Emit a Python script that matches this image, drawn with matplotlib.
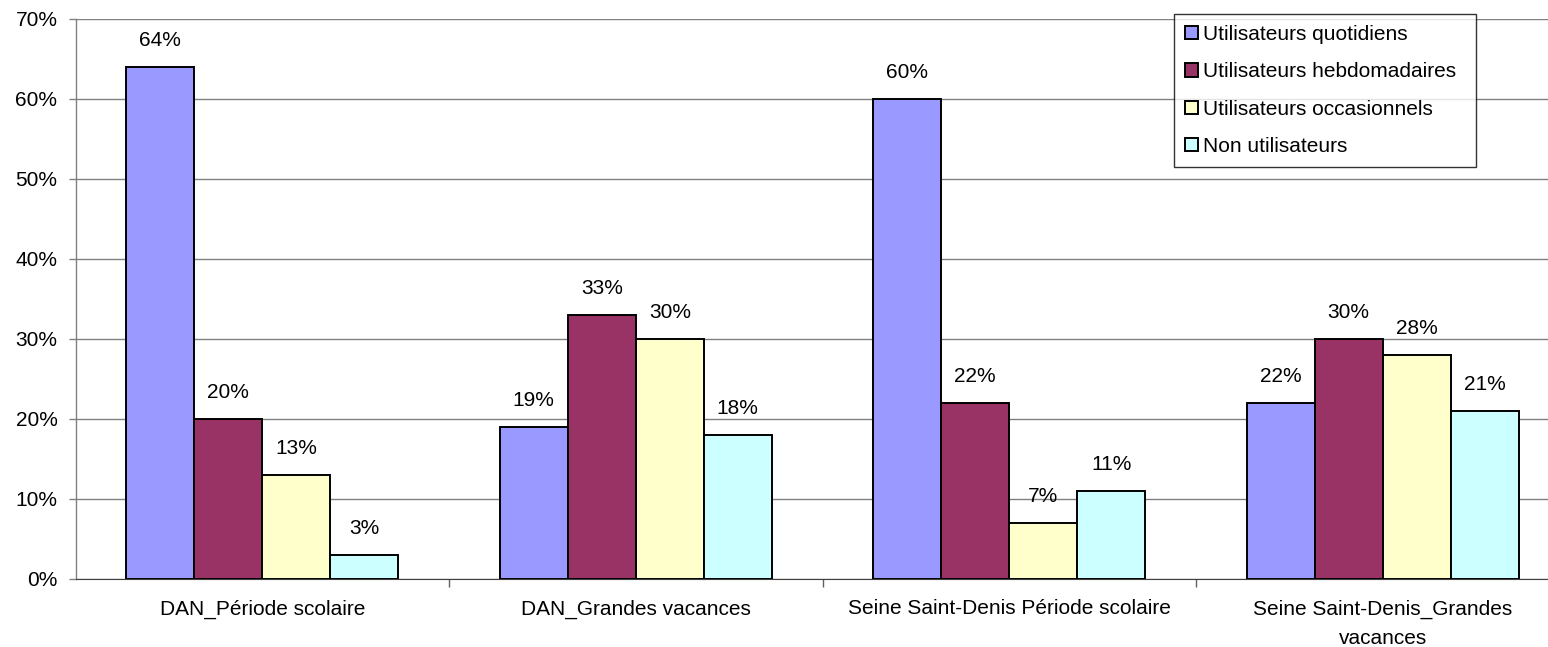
import matplotlib
matplotlib.use("Agg")
import matplotlib.pyplot as plt
import numpy as np

plt.rcParams['font.family'] = ['Liberation Sans', 'DejaVu Sans']

categories = ["DAN_Période scolaire", "DAN_Grandes vacances",
              "Seine Saint-Denis Période scolaire",
              "Seine Saint-Denis_Grandes\nvacances"]
series_names = ["Utilisateurs quotidiens", "Utilisateurs hebdomadaires",
                "Utilisateurs occasionnels", "Non utilisateurs"]
quotidiens = [64, 19, 60, 22]
hebdomadaires = [20, 33, 22, 30]
occasionnels = [13, 30, 7, 28]
non_utilisateurs = [3, 18, 11, 21]
colors = ["#9999FF", "#993366", "#FFFFCC", "#CCFFFF"]
y_ticks = [0, 10, 20, 30, 40, 50, 60, 70]

series = [quotidiens, hebdomadaires, occasionnels, non_utilisateurs]
FS = 15

fig = plt.figure(figsize=(15.48, 6.47), dpi=100)
W, H = 1548, 647
left, right, top, bottom = 75.5, 1548, 19, 579
ax = fig.add_axes([left / W, 1 - bottom / H, (right - left) / W, (bottom - top) / H])

cat_px = 373.5
bar_w = 68 / cat_px
x = np.arange(len(categories)) + 0.5
for i, (vals, name, c) in enumerate(zip(series, series_names, colors)):
    pos = x + (i - 1.5) * bar_w
    ax.bar(pos, vals, width=bar_w, color=c, edgecolor="black", linewidth=1.4,
           label=name, zorder=3)
    for xp, v in zip(pos, vals):
        ax.text(xp, v + 3.3, f"{v}%", ha="center", va="center", fontsize=FS,
                zorder=4)

ax.set_xlim(0, (right - left) / cat_px)
ax.set_ylim(0, 70)
ax.set_yticks(y_ticks)
ax.set_yticklabels([f"{t}%" for t in y_ticks], fontsize=FS)
ax.yaxis.grid(True, color="#808080", linewidth=1.0, zorder=0)
ax.tick_params(axis="y", length=5, color="#808080", width=1.0, pad=8)

ax.set_xticks([1, 2, 3])
ax.set_xticklabels([])
ax.tick_params(axis="x", length=6, direction="out", color="#606060", width=1.0)
for xc, lab in zip(x, categories):
    ax.text(xc, -2.55, lab, ha="center", va="top", fontsize=FS,
            linespacing=1.7, transform=ax.transData)

for s in ["top", "right"]:
    ax.spines[s].set_visible(False)
ax.spines["left"].set_color("#808080")
ax.spines["bottom"].set_color("#404040")
ax.spines["left"].set_linewidth(1.0)

leg = ax.legend(loc="upper left",
                bbox_to_anchor=(1174 / W, 1 - 168 / H, 302 / W, 154 / H),
                bbox_transform=fig.transFigure, mode="expand",
                fontsize=FS, frameon=True,
                fancybox=False, edgecolor="black", handlelength=0.6,
                handleheight=0.6, handletextpad=0.25, labelspacing=0.88,
                borderpad=0.53, borderaxespad=0)
leg.get_frame().set_linewidth(1.0)
leg.set_zorder(5)

fig.savefig("out.png", dpi=100)
